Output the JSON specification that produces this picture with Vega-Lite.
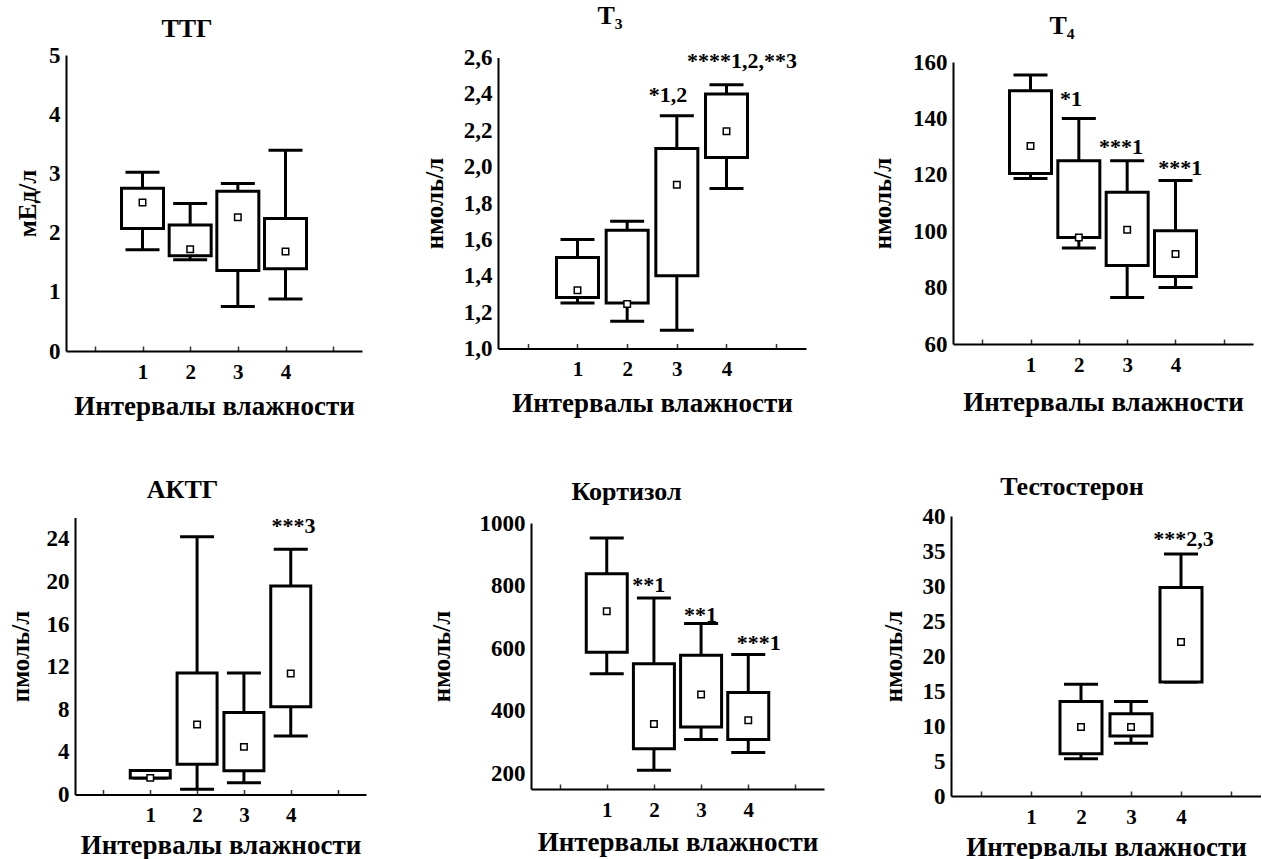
{
"$schema": "https://vega.github.io/schema/vega-lite/v6.json",
"background": "white",
"padding": {"left": 6, "top": 2, "right": 0, "bottom": 0},
"datasets": {
"ttg": [
{"g":1,"lo":1.71,"q1":2.07,"med":2.51,"q3":2.75,"hi":3.02},
{"g":2,"lo":1.54,"q1":1.61,"med":1.72,"q3":2.13,"hi":2.49},
{"g":3,"lo":0.75,"q1":1.36,"med":2.26,"q3":2.70,"hi":2.83},
{"g":4,"lo":0.88,"q1":1.39,"med":1.68,"q3":2.24,"hi":3.39}],
"t3": [
{"g":1,"lo":1.25,"q1":1.28,"med":1.32,"q3":1.50,"hi":1.60},
{"g":2,"lo":1.15,"q1":1.25,"med":1.245,"q3":1.65,"hi":1.70},
{"g":3,"lo":1.10,"q1":1.40,"med":1.90,"q3":2.10,"hi":2.28},
{"g":4,"lo":1.88,"q1":2.05,"med":2.195,"q3":2.40,"hi":2.45}],
"t4": [
{"g":1,"lo":118.7,"q1":120.5,"med":130.2,"q3":149.8,"hi":155.4},
{"g":2,"lo":94,"q1":97.8,"med":97.8,"q3":125,"hi":140},
{"g":3,"lo":76.5,"q1":87.8,"med":100.5,"q3":113.8,"hi":125},
{"g":4,"lo":80,"q1":83.9,"med":91.9,"q3":100.2,"hi":118}],
"actg": [
{"g":1,"lo":1.56,"q1":1.56,"med":1.56,"q3":2.25,"hi":2.25},
{"g":2,"lo":0.5,"q1":2.85,"med":6.57,"q3":11.4,"hi":24.2},
{"g":3,"lo":1.1,"q1":2.22,"med":4.47,"q3":7.7,"hi":11.4},
{"g":4,"lo":5.5,"q1":8.23,"med":11.36,"q3":19.56,"hi":23.03}],
"cort": [
{"g":1,"lo":518,"q1":587,"med":718,"q3":838,"hi":952},
{"g":2,"lo":210,"q1":279,"med":358,"q3":550,"hi":760},
{"g":3,"lo":308,"q1":348,"med":452,"q3":577,"hi":679},
{"g":4,"lo":267,"q1":308,"med":370,"q3":458,"hi":580}],
"test": [
{"g":2,"lo":5.33,"q1":6.05,"med":9.86,"q3":13.5,"hi":15.95},
{"g":3,"lo":7.52,"q1":8.57,"med":9.86,"q3":11.76,"hi":13.5},
{"g":4,"lo":16.29,"q1":16.29,"med":22.0,"q3":29.8,"hi":34.57}],
"t3_ann": [{"g":2.82,"v":2.356,"t":"*1,2"},{"g":4.31,"v":2.545,"t":"****1,2,**3"}],
"t4_ann": [{"g":1.84,"v":144.3,"t":"*1"},{"g":2.87,"v":127.5,"t":"***1"},{"g":4.1,"v":120,"t":"***1"}],
"actg_ann": [{"g":4.06,"v":24.5,"t":"***3"}],
"cort_ann": [{"g":1.89,"v":779,"t":"**1"},{"g":2.99,"v":683.5,"t":"**1"},{"g":4.22,"v":593,"t":"***1"}],
"test_ann": [{"g":4.05,"v":35.7,"t":"***2,3"}]
},
"vconcat": [
{"concat": [
{"width": 60, "height": 1, "data": {"values": [{}]}, "mark": {"type": "text", "text": ""}},
{"width": 296, "height": 296,
 "title": {"text": "ТТГ", "dx": -27, "offset": 2},
 "data": {"name": "ttg"},
 "encoding": {"x": {"field": "g", "type": "quantitative", "title": "Интервалы влажности", "scale": {"domain": [-0.5, 5.5], "nice": false, "zero": false}, "axis": {"values": [0,1,2,3,4,5], "format": "d", "labelExpr": "datum.value >= 1 && datum.value <= 4 ? datum.label : ''", "titleY": 42}}},
 "layer": [
  {"mark": {"type": "rule", "strokeWidth": 3, "color": "black"}, "encoding": {"y": {"field": "lo", "type": "quantitative", "title": "мЕд/л", "scale": {"domain": [0,5], "nice": false, "zero": false}, "axis": {"values": [0,1,2,3,4,5], "format": "d", "titleX": -39, "titleY": 148}}, "y2": {"field": "hi"}}},
  {"mark": {"type": "tick", "orient": "horizontal", "size": 34, "thickness": 3, "color": "black", "opacity": 1}, "encoding": {"y": {"field": "lo", "type": "quantitative", "title": "мЕд/л"}}},
  {"mark": {"type": "tick", "orient": "horizontal", "size": 34, "thickness": 3, "color": "black", "opacity": 1}, "encoding": {"y": {"field": "hi", "type": "quantitative", "title": "мЕд/л"}}},
  {"mark": {"type": "bar", "size": 42, "fill": "white", "stroke": "black", "strokeWidth": 3}, "encoding": {"y": {"field": "q1", "type": "quantitative", "title": "мЕд/л"}, "y2": {"field": "q3"}}},
  {"mark": {"type": "point", "shape": "square", "size": 42, "filled": true, "fill": "white", "stroke": "black", "strokeWidth": 1.5, "opacity": 1}, "encoding": {"y": {"field": "med", "type": "quantitative", "title": "мЕд/л"}}}
 ]},
{"width": 136, "height": 1, "data": {"values": [{}]}, "mark": {"type": "text", "text": ""}},
{"width": 308, "height": 291,
 "title": {"text": "T₃", "dx": -42, "offset": 18},
 "data": {"name": "t3"},
 "encoding": {"x": {"field": "g", "type": "quantitative", "title": "Интервалы влажности", "scale": {"domain": [-0.5, 5.5], "nice": false, "zero": false}, "axis": {"values": [0,1,2,3,4,5], "format": "d", "labelExpr": "datum.value >= 1 && datum.value <= 4 ? datum.label : ''", "titleY": 42}}},
 "layer": [
  {"mark": {"type": "rule", "strokeWidth": 3, "color": "black"}, "encoding": {"y": {"field": "lo", "type": "quantitative", "title": "нмоль/л", "scale": {"domain": [1.0,2.6], "nice": false, "zero": false}, "axis": {"values": [1.0,1.2,1.4,1.6,1.8,2.0,2.2,2.4,2.6], "labelExpr": "replace(format(datum.value, '.1f'), '.', ',')", "titleX": -64, "titleY": 145.5}}, "y2": {"field": "hi"}}},
  {"mark": {"type": "tick", "orient": "horizontal", "size": 34, "thickness": 3, "color": "black", "opacity": 1}, "encoding": {"y": {"field": "lo", "type": "quantitative", "title": "нмоль/л"}}},
  {"mark": {"type": "tick", "orient": "horizontal", "size": 34, "thickness": 3, "color": "black", "opacity": 1}, "encoding": {"y": {"field": "hi", "type": "quantitative", "title": "нмоль/л"}}},
  {"mark": {"type": "bar", "size": 42, "fill": "white", "stroke": "black", "strokeWidth": 3}, "encoding": {"y": {"field": "q1", "type": "quantitative", "title": "нмоль/л"}, "y2": {"field": "q3"}}},
  {"mark": {"type": "point", "shape": "square", "size": 42, "filled": true, "fill": "white", "stroke": "black", "strokeWidth": 1.5, "opacity": 1}, "encoding": {"y": {"field": "med", "type": "quantitative", "title": "нмоль/л"}}},
  {"data": {"name": "t3_ann"}, "mark": {"type": "text", "fontSize": 22, "fontWeight": "bold", "baseline": "alphabetic", "align": "center", "color": "black"}, "encoding": {"y": {"field": "v", "type": "quantitative", "title": "нмоль/л"}, "text": {"field": "t"}}}
 ]},
{"width": 147, "height": 1, "data": {"values": [{}]}, "mark": {"type": "text", "text": ""}},
{"width": 300, "height": 282,
 "title": {"text": "T₄", "dx": -41, "offset": 12},
 "data": {"name": "t4"},
 "encoding": {"x": {"field": "g", "type": "quantitative", "title": "Интервалы влажности", "scale": {"domain": [-0.5, 5.5], "nice": false, "zero": false}, "axis": {"values": [0,1,2,3,4,5], "format": "d", "labelExpr": "datum.value >= 1 && datum.value <= 4 ? datum.label : ''", "titleY": 45}}},
 "layer": [
  {"mark": {"type": "rule", "strokeWidth": 3, "color": "black"}, "encoding": {"y": {"field": "lo", "type": "quantitative", "title": "нмоль/л", "scale": {"domain": [60,160], "nice": false, "zero": false}, "axis": {"values": [60,80,100,120,140,160], "titleX": -71, "titleY": 141}}, "y2": {"field": "hi"}}},
  {"mark": {"type": "tick", "orient": "horizontal", "size": 34, "thickness": 3, "color": "black", "opacity": 1}, "encoding": {"y": {"field": "lo", "type": "quantitative", "title": "нмоль/л"}}},
  {"mark": {"type": "tick", "orient": "horizontal", "size": 34, "thickness": 3, "color": "black", "opacity": 1}, "encoding": {"y": {"field": "hi", "type": "quantitative", "title": "нмоль/л"}}},
  {"mark": {"type": "bar", "size": 42, "fill": "white", "stroke": "black", "strokeWidth": 3}, "encoding": {"y": {"field": "q1", "type": "quantitative", "title": "нмоль/л"}, "y2": {"field": "q3"}}},
  {"mark": {"type": "point", "shape": "square", "size": 42, "filled": true, "fill": "white", "stroke": "black", "strokeWidth": 1.5, "opacity": 1}, "encoding": {"y": {"field": "med", "type": "quantitative", "title": "нмоль/л"}}},
  {"data": {"name": "t4_ann"}, "mark": {"type": "text", "fontSize": 22, "fontWeight": "bold", "baseline": "alphabetic", "align": "center", "color": "black"}, "encoding": {"y": {"field": "v", "type": "quantitative", "title": "нмоль/л"}, "text": {"field": "t"}}}
 ]}
], "columns": 6, "spacing": 0, "bounds": "flush", "align": "each", "center": true},
{"concat": [
{"width": 69, "height": 1, "data": {"values": [{}]}, "mark": {"type": "text", "text": ""}},
{"width": 291, "height": 277,
 "title": {"text": "АКТГ", "dx": -38, "offset": 12},
 "data": {"name": "actg"},
 "encoding": {"x": {"field": "g", "type": "quantitative", "title": "Интервалы влажности", "scale": {"domain": [-0.5, 5.5], "nice": false, "zero": false}, "axis": {"values": [0,1,2,3,4,5], "format": "d", "labelExpr": "datum.value >= 1 && datum.value <= 4 ? datum.label : ''", "titleY": 38}}},
 "layer": [
  {"mark": {"type": "rule", "strokeWidth": 3, "color": "black"}, "encoding": {"y": {"field": "lo", "type": "quantitative", "title": "пмоль/л", "scale": {"domain": [0,26], "nice": false, "zero": false}, "axis": {"values": [0,4,8,12,16,20,24], "titleX": -55, "titleY": 138.5}}, "y2": {"field": "hi"}}},
  {"mark": {"type": "tick", "orient": "horizontal", "size": 34, "thickness": 3, "color": "black", "opacity": 1}, "encoding": {"y": {"field": "lo", "type": "quantitative", "title": "пмоль/л"}}},
  {"mark": {"type": "tick", "orient": "horizontal", "size": 34, "thickness": 3, "color": "black", "opacity": 1}, "encoding": {"y": {"field": "hi", "type": "quantitative", "title": "пмоль/л"}}},
  {"mark": {"type": "bar", "size": 40, "fill": "white", "stroke": "black", "strokeWidth": 3}, "encoding": {"y": {"field": "q1", "type": "quantitative", "title": "пмоль/л"}, "y2": {"field": "q3"}}},
  {"mark": {"type": "point", "shape": "square", "size": 42, "filled": true, "fill": "white", "stroke": "black", "strokeWidth": 1.5, "opacity": 1}, "encoding": {"y": {"field": "med", "type": "quantitative", "title": "пмоль/л"}}},
  {"data": {"name": "actg_ann"}, "mark": {"type": "text", "fontSize": 22, "fontWeight": "bold", "baseline": "alphabetic", "align": "center", "color": "black"}, "encoding": {"y": {"field": "v", "type": "quantitative", "title": "пмоль/л"}, "text": {"field": "t"}}}
 ]},
{"width": 165, "height": 1, "data": {"values": [{}]}, "mark": {"type": "text", "text": ""}},
{"width": 293, "height": 266,
 "title": {"text": "Кортизол", "dx": -51, "offset": 7},
 "data": {"name": "cort"},
 "encoding": {"x": {"field": "g", "type": "quantitative", "title": "Интервалы влажности", "scale": {"domain": [-0.5, 5.5], "nice": false, "zero": false}, "axis": {"values": [0,1,2,3,4,5], "format": "d", "labelExpr": "datum.value >= 1 && datum.value <= 4 ? datum.label : ''", "titleY": 40}}},
 "layer": [
  {"mark": {"type": "rule", "strokeWidth": 3, "color": "black"}, "encoding": {"y": {"field": "lo", "type": "quantitative", "title": "нмоль/л", "scale": {"domain": [150,1000], "nice": false, "zero": false}, "axis": {"values": [200,400,600,800,1000], "format": "d", "titleX": -90, "titleY": 133}}, "y2": {"field": "hi"}}},
  {"mark": {"type": "tick", "orient": "horizontal", "size": 34, "thickness": 3, "color": "black", "opacity": 1}, "encoding": {"y": {"field": "lo", "type": "quantitative", "title": "нмоль/л"}}},
  {"mark": {"type": "tick", "orient": "horizontal", "size": 34, "thickness": 3, "color": "black", "opacity": 1}, "encoding": {"y": {"field": "hi", "type": "quantitative", "title": "нмоль/л"}}},
  {"mark": {"type": "bar", "size": 41, "fill": "white", "stroke": "black", "strokeWidth": 3}, "encoding": {"y": {"field": "q1", "type": "quantitative", "title": "нмоль/л"}, "y2": {"field": "q3"}}},
  {"mark": {"type": "point", "shape": "square", "size": 42, "filled": true, "fill": "white", "stroke": "black", "strokeWidth": 1.5, "opacity": 1}, "encoding": {"y": {"field": "med", "type": "quantitative", "title": "нмоль/л"}}},
  {"data": {"name": "cort_ann"}, "mark": {"type": "text", "fontSize": 22, "fontWeight": "bold", "baseline": "alphabetic", "align": "center", "color": "black"}, "encoding": {"y": {"field": "v", "type": "quantitative", "title": "нмоль/л"}, "text": {"field": "t"}}}
 ]},
{"width": 127, "height": 1, "data": {"values": [{}]}, "mark": {"type": "text", "text": ""}},
{"width": 310, "height": 280,
 "title": {"text": "Тестостерон", "dx": -34, "offset": 5},
 "data": {"name": "test"},
 "encoding": {"x": {"field": "g", "type": "quantitative", "title": "Интервалы влажности", "scale": {"domain": [-0.5, 5.5], "nice": false, "zero": false}, "axis": {"values": [0,1,2,3,4,5], "format": "d", "labelExpr": "datum.value >= 1 && datum.value <= 4 ? datum.label : ''", "titleY": 38}}},
 "layer": [
  {"mark": {"type": "rule", "strokeWidth": 3, "color": "black"}, "encoding": {"y": {"field": "lo", "type": "quantitative", "title": "нмоль/л", "scale": {"domain": [0,40], "nice": false, "zero": false}, "axis": {"values": [0,5,10,15,20,25,30,35,40], "titleX": -58, "titleY": 140}}, "y2": {"field": "hi"}}},
  {"mark": {"type": "tick", "orient": "horizontal", "size": 34, "thickness": 3, "color": "black", "opacity": 1}, "encoding": {"y": {"field": "lo", "type": "quantitative", "title": "нмоль/л"}}},
  {"mark": {"type": "tick", "orient": "horizontal", "size": 34, "thickness": 3, "color": "black", "opacity": 1}, "encoding": {"y": {"field": "hi", "type": "quantitative", "title": "нмоль/л"}}},
  {"mark": {"type": "bar", "size": 42, "fill": "white", "stroke": "black", "strokeWidth": 3}, "encoding": {"y": {"field": "q1", "type": "quantitative", "title": "нмоль/л"}, "y2": {"field": "q3"}}},
  {"mark": {"type": "point", "shape": "square", "size": 42, "filled": true, "fill": "white", "stroke": "black", "strokeWidth": 1.5, "opacity": 1}, "encoding": {"y": {"field": "med", "type": "quantitative", "title": "нмоль/л"}}},
  {"data": {"name": "test_ann"}, "mark": {"type": "text", "fontSize": 22, "fontWeight": "bold", "baseline": "alphabetic", "align": "center", "color": "black"}, "encoding": {"y": {"field": "v", "type": "quantitative", "title": "нмоль/л"}, "text": {"field": "t"}}}
 ]}
], "columns": 6, "spacing": 0, "bounds": "flush", "align": "each", "center": true}
],
"spacing": 55,
"config": {
 "font": "'Liberation Serif', 'Times New Roman', Times, 'DejaVu Serif', serif",
 "view": {"stroke": null},
 "text": {"font": "'Liberation Serif', 'Times New Roman', Times, 'DejaVu Serif', serif"},
 "axis": {"grid": false, "domainColor": "black", "domainWidth": 2, "tickColor": "black", "tickWidth": 1.5, "tickSize": -5, "tickCount": 30, "labelFont": "'Liberation Serif', 'Times New Roman', Times, 'DejaVu Serif', serif", "labelFontWeight": "bold", "labelFontSize": 23, "labelColor": "black", "titleFont": "'Liberation Serif', 'Times New Roman', Times, 'DejaVu Serif', serif", "titleFontWeight": "bold", "titleFontSize": 25, "titleColor": "black", "labelOverlap": false, "labelFlush": false},
 "axisX": {"labelPadding": 15, "labelFontSize": 21, "titleFontSize": 27, "titleBaseline": "top", "labelAngle": 0, "tickOpacity": 0.8},
 "axisY": {"labelPadding": 11, "titleAngle": -90, "titleBaseline": "middle", "titleAlign": "center", "tickOpacity": 0},
 "title": {"font": "'Liberation Serif', 'Times New Roman', Times, 'DejaVu Serif', serif", "fontWeight": "bold", "fontSize": 26, "color": "black", "baseline": "alphabetic", "frame": "group", "anchor": "middle"}
}
}
